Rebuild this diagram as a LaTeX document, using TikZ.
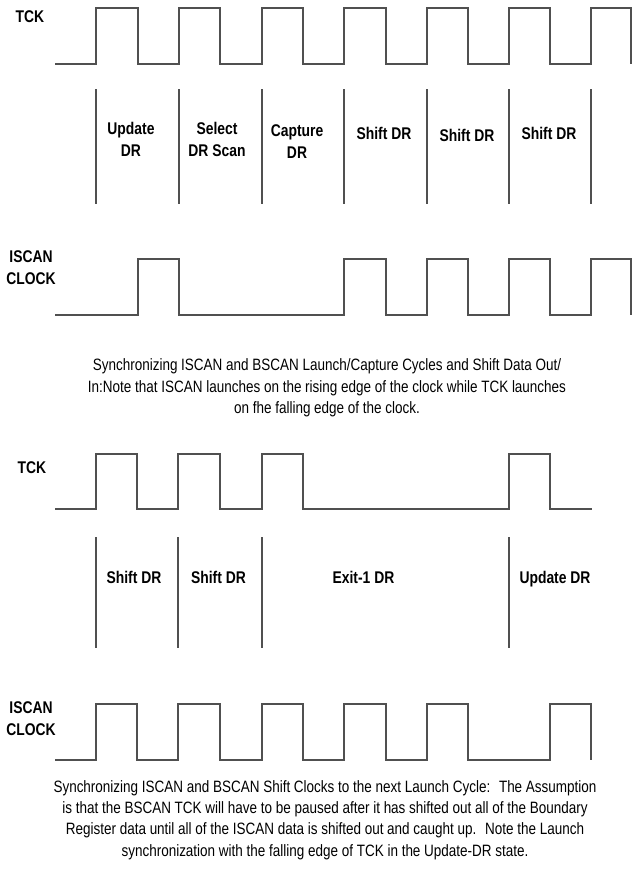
\documentclass[tikz,border=0pt]{standalone}
\usepackage{fontspec}
\setmainfont{Liberation Sans}[FakeStretch=0.82]
\definecolor{wavecol}{HTML}{505050}
\begin{document}
\begin{tikzpicture}[x=1bp,y=-1bp,
  wave/.style={draw=wavecol,line width=1.4bp,line join=miter},
  divider/.style={draw=wavecol,line width=1.2bp},
  siglabel/.style={font=\bfseries\fontsize{17}{22}\selectfont,align=center,inner sep=0pt},
  statelabel/.style={font=\bfseries\fontsize{17}{22}\selectfont,align=center,inner sep=0pt,text depth=0pt},
  caption/.style={font=\fontsize{16.5}{21.4}\selectfont,align=center,inner sep=0pt}]
\useasboundingbox (0,0) rectangle (634,871);

% ---------- top diagram ----------
\node[siglabel] (tck1) at (30,17) {TCK};
\draw[wave] (55,64) -- (96,64) -- (96,8) -- (138,8) -- (138,64) -- (179,64) -- (179,8) -- (220,8) -- (220,64)
  -- (262,64) -- (262,8) -- (303,8) -- (303,64) -- (344,64) -- (344,8) -- (386,8) -- (386,64)
  -- (427,64) -- (427,8) -- (468,8) -- (468,64) -- (509,64) -- (509,8) -- (550,8) -- (550,64)
  -- (591,64) -- (591,8) -- (631,8) -- (631,64);
\foreach \x in {96,179,262,344,427,509,591} \draw[divider] (\x,89) -- (\x,204);
\node[statelabel] (s1) at (131,139) {Update\\DR};
\node[statelabel] (s2) at (217,139) {Select\\DR Scan};
\node[statelabel] (s3) at (297,142) {Capture\\DR};
\node[statelabel] (s4) at (384,133) {Shift DR};
\node[statelabel] (s5) at (467,135) {Shift DR};
\node[statelabel] (s6) at (549,133) {Shift DR};

\node[siglabel] (isc1) at (31,268) {ISCAN\\CLOCK};
\draw[wave] (55,315) -- (138,315) -- (138,259) -- (179,259) -- (179,315) -- (344,315) -- (344,259) -- (386,259) -- (386,315)
  -- (427,315) -- (427,259) -- (468,259) -- (468,315) -- (509,315) -- (509,259) -- (550,259) -- (550,315)
  -- (591,315) -- (591,259) -- (631,259) -- (631,315);

\node[caption] (cap1) at (327,388) {Synchronizing ISCAN and BSCAN Launch/Capture Cycles and Shift Data Out/\\In:Note that ISCAN launches on the rising edge of the clock while TCK launches\\on fhe falling edge of the clock.};

% ---------- bottom diagram ----------
\node[siglabel] (tck2) at (32,468) {TCK};
\draw[wave] (55,509) -- (96,509) -- (96,454) -- (137,454) -- (137,509) -- (178,509) -- (178,454) -- (220,454) -- (220,509)
  -- (262,509) -- (262,454) -- (303,454) -- (303,509) -- (509,509) -- (509,454) -- (550,454) -- (550,509) -- (592,509);
\foreach \x in {96,178,262,509} \draw[divider] (\x,537) -- (\x,648);
\node[statelabel] (t1) at (134,577) {Shift DR};
\node[statelabel] (t2) at (218.5,577) {Shift DR};
\node[statelabel] (t3) at (363.5,577) {Exit-1 DR};
\node[statelabel] (t4) at (555,577) {Update DR};

\node[siglabel] (isc2) at (31,719) {ISCAN\\CLOCK};
\draw[wave] (55,760) -- (96,760) -- (96,704) -- (137,704) -- (137,760) -- (178,760) -- (178,704) -- (220,704) -- (220,760)
  -- (262,760) -- (262,704) -- (303,704) -- (303,760) -- (344,760) -- (344,704) -- (386,704) -- (386,760)
  -- (427,760) -- (427,704) -- (468,704) -- (468,760) -- (550,760) -- (550,704) -- (591,704) -- (591,760);

\node[caption] (cap2) at (325,820) {Synchronizing ISCAN and BSCAN Shift Clocks to the next Launch Cycle:~ The Assumption\\is that the BSCAN TCK will have to be paused after it has shifted out all of the Boundary\\Register data until all of the ISCAN data is shifted out and caught up.~ Note the Launch\\synchronization with the falling edge of TCK in the Update-DR state.};
\end{tikzpicture}
\end{document}
